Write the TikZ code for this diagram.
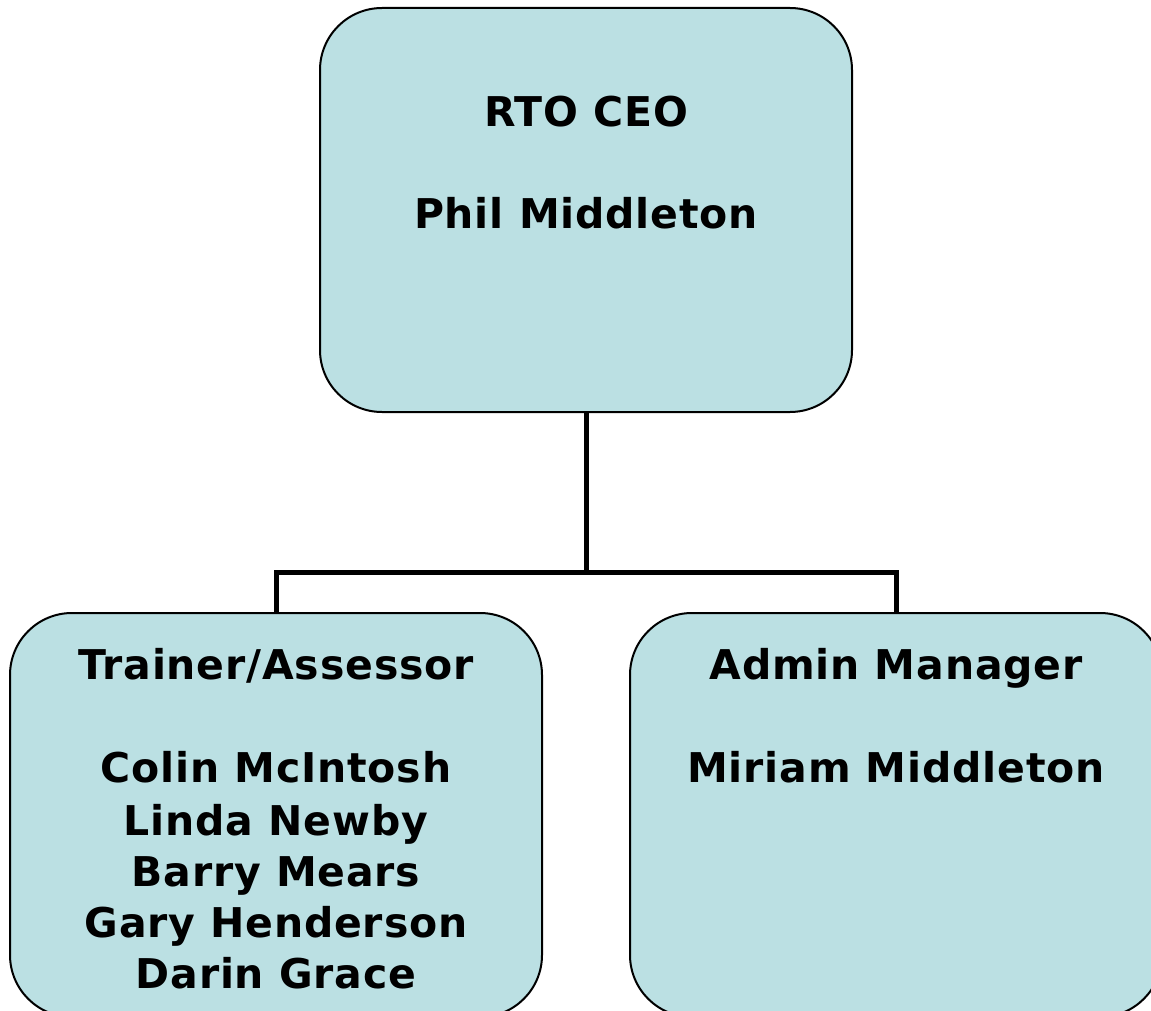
\documentclass[tikz,border=0pt]{standalone}
\usepackage{fontspec}
\setmainfont{DejaVu Sans}[LetterSpace=2]
\definecolor{boxfill}{RGB}{187,224,227}
\begin{document}
\begin{tikzpicture}[x=1pt,y=-1pt,
  orgbox/.style={draw=black, line width=2pt, fill=boxfill, rounded corners=62pt,
    minimum width=532pt, minimum height=404pt, inner sep=0pt, outer sep=0pt},
  lbl/.style={anchor=base, inner sep=0pt, font=\fontsize{41}{52}\selectfont\bfseries},
  link/.style={draw=black, line width=5pt}]
  \useasboundingbox (0,0) rectangle (1151,1011);
  % boxes
  \node[orgbox] (ceo) at (586,210) {};
  \node[orgbox] (trainer) at (276,815) {};
  \node[orgbox] (admin) at (896,815) {};
  % connectors
  \coordinate (split) at (586,572);
  \draw[link] (ceo.south) -- (split);
  \draw[link] (split) -| (trainer.north);
  \draw[link] (split) -| (admin.north);
  % texts
  \node[lbl] (t1) at (586,127) {RTO CEO};
  \node[lbl] (t2) at (586,229) {Phil Middleton};
  \node[lbl] (t3) at (276,679) {Trainer/Assessor};
  \node[lbl] (t4) at (276,782) {Colin McIntosh};
  \node[lbl] (t5) at (276,835) {Linda Newby};
  \node[lbl] (t6) at (276,886) {Barry Mears};
  \node[lbl] (t7) at (276,937) {Gary Henderson};
  \node[lbl] (t8) at (276,988) {Darin Grace};
  \node[lbl] (t9) at (896,679) {Admin Manager};
  \node[lbl] (t10) at (896,782) {Miriam Middleton};
\end{tikzpicture}
\end{document}
